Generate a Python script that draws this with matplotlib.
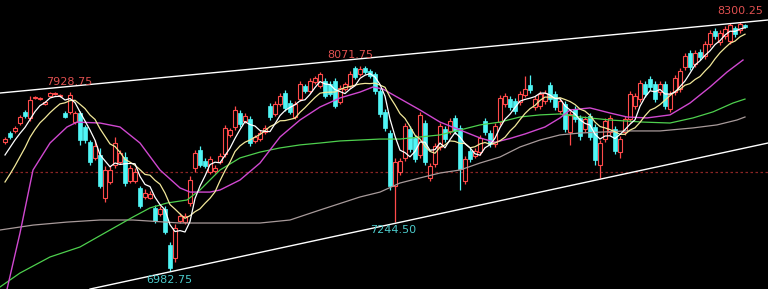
import numpy as np
import pandas as pd
import matplotlib
matplotlib.use("Agg")
import matplotlib.pyplot as plt

# ---------------- data ----------------
opens = [7666, 7714, 7725, 7767, 7825, 7794, 7900, 7894, 7868, 7910,
         7921, 7910, 7820, 7825, 7772, 7820, 7746, 7666, 7582, 7598,
         7370, 7454, 7545, 7560, 7587, 7460, 7460, 7423, 7375, 7370,
         7317, 7285, 7311, 7121, 7052, 7248, 7242, 7343, 7529, 7624,
         7566, 7507, 7513, 7560, 7603, 7704, 7746, 7820, 7778, 7788,
         7672, 7682, 7719, 7857, 7815, 7868, 7926, 7873, 7799, 7894,
         7963, 7937, 7984, 7963, 7990, 7974, 7990, 7878, 7947, 7963,
         8059, 8027, 8059, 8043, 8027, 7937, 7825, 7714, 7433, 7507,
         7582, 7735, 7688, 7598, 7767, 7476, 7550, 7640, 7735, 7725,
         7794, 7741, 7460, 7619, 7592, 7613, 7778, 7714, 7656, 7772,
         7868, 7894, 7884, 7878, 7916, 7969, 7852, 7857, 7884, 7969,
         7921, 7831, 7868, 7719, 7841, 7794, 7735, 7804, 7746, 7545,
         7682, 7719, 7735, 7613, 7719, 7788, 7857, 7894, 7974, 8000,
         7974, 7931, 7974, 7841, 7931, 7947, 8064, 8138, 8080, 8143,
         8122, 8186, 8255, 8196, 8228, 8202, 8271, 8260, 8287]
closes = [7682, 7693, 7741, 7799, 7804, 7889, 7905, 7900, 7878, 7926,
          7926, 7916, 7799, 7916, 7820, 7677, 7677, 7560, 7645, 7433,
          7518, 7518, 7661, 7608, 7449, 7529, 7507, 7327, 7396, 7391,
          7248, 7311, 7189, 6999, 7211, 7274, 7274, 7465, 7608, 7545,
          7539, 7576, 7529, 7592, 7741, 7730, 7836, 7762, 7804, 7661,
          7693, 7714, 7741, 7799, 7868, 7910, 7847, 7825, 7868, 7974,
          7937, 7990, 8006, 8027, 7910, 7921, 7857, 7953, 7974, 8027,
          8011, 8053, 8037, 8016, 7937, 7815, 7741, 7433, 7560, 7566,
          7751, 7629, 7576, 7810, 7560, 7539, 7645, 7751, 7682, 7778,
          7725, 7523, 7576, 7576, 7619, 7688, 7719, 7656, 7751, 7900,
          7910, 7852, 7831, 7921, 7947, 7942, 7894, 7921, 7926, 7894,
          7852, 7884, 7735, 7815, 7788, 7698, 7788, 7693, 7571, 7661,
          7778, 7794, 7619, 7682, 7788, 7921, 7910, 7979, 7921, 7958,
          7894, 7974, 7857, 7921, 8006, 8043, 8122, 8064, 8138, 8117,
          8186, 8244, 8228, 8244, 8265, 8287, 8239, 8292, 8276]
highs = [7693, 7725, 7751, 7810, 7836, 7910, 7910, 7905, 7884, 7931,
         7931, 7921, 7831, 7928.75, 7831, 7831, 7757, 7677, 7677, 7635,
         7539, 7539, 7693, 7624, 7613, 7545, 7529, 7433, 7417, 7407,
         7333, 7327, 7327, 7136, 7232, 7290, 7290, 7486, 7624, 7645,
         7582, 7592, 7545, 7608, 7757, 7741, 7857, 7836, 7820, 7804,
         7704, 7730, 7757, 7873, 7884, 7926, 7942, 7889, 7884, 7990,
         7974, 8006, 8016, 8037, 8006, 7990, 8006, 7969, 7984, 8043,
         8069, 8071.75, 8069, 8053, 8037, 7953, 7841, 7730, 7582, 7582,
         7767, 7751, 7704, 7825, 7783, 7555, 7661, 7767, 7751, 7794,
         7810, 7757, 7592, 7635, 7635, 7704, 7794, 7730, 7767, 7916,
         7926, 7910, 7900, 7937, 8016, 8022, 7910, 7937, 7942, 7984,
         7937, 7900, 7884, 7831, 7857, 7810, 7804, 7820, 7762, 7677,
         7794, 7810, 7751, 7698, 7804, 7937, 7926, 7995, 7990, 8016,
         7990, 7990, 7990, 7937, 8022, 8059, 8138, 8154, 8154, 8159,
         8202, 8260, 8271, 8260, 8281, 8296, 8281, 8300.25, 8292]
lows = [7656, 7682, 7714, 7757, 7794, 7778, 7894, 7889, 7863, 7905,
        7916, 7905, 7794, 7815, 7762, 7651, 7661, 7545, 7571, 7423,
        7348, 7444, 7529, 7550, 7433, 7449, 7449, 7317, 7364, 7364,
        7237, 7274, 7179, 6982.75, 7030, 7237, 7232, 7327, 7507, 7534,
        7529, 7497, 7502, 7550, 7587, 7693, 7730, 7746, 7767, 7645,
        7661, 7672, 7709, 7783, 7804, 7857, 7831, 7815, 7788, 7884,
        7926, 7926, 7974, 7953, 7900, 7910, 7847, 7868, 7937, 7953,
        8000, 8016, 8027, 8006, 7921, 7799, 7725, 7412, 7244.5, 7492,
        7566, 7613, 7560, 7582, 7545, 7460, 7534, 7624, 7666, 7709,
        7709, 7412, 7444, 7560, 7582, 7598, 7704, 7640, 7640, 7757,
        7852, 7836, 7815, 7863, 7905, 7926, 7836, 7841, 7868, 7878,
        7836, 7815, 7719, 7651, 7772, 7677, 7719, 7677, 7545, 7476,
        7666, 7704, 7603, 7582, 7704, 7772, 7841, 7878, 7905, 7942,
        7878, 7916, 7841, 7825, 7916, 7931, 8048, 8048, 8064, 8101,
        8106, 8170, 8212, 8181, 8212, 8186, 8223, 8244, 8271]

# closes before the first visible candle (for the short moving averages)
prior_closes = [7280, 7295, 7317, 7327, 7338, 7492, 7545, 7624, 7645]

# longer moving averages, read at sample candles
ma20_idx = [0, 3, 5.6, 9, 12.4, 14.4, 19, 23, 27, 31, 35, 37, 41, 43, 47, 51, 55,
            59, 63, 67, 71, 73.6, 75.6, 78.4, 83, 87, 91, 95, 98, 101, 104, 108,
            111, 113, 117, 121, 124.4, 128.4, 133, 137, 141, 144.4, 147.6]
ma20_val = [6840, 7184, 7518, 7661, 7746, 7772, 7767, 7746, 7661, 7518, 7423, 7401,
            7401, 7412, 7465, 7555, 7693, 7783, 7852, 7900, 7931, 7958, 7947, 7905,
            7836, 7772, 7730, 7688, 7665, 7685, 7709, 7746, 7794, 7836, 7847, 7820,
            7799, 7794, 7810, 7873, 7958, 8037, 8101]
ma60_idx = [-1, 3, 9, 15, 21, 25.6, 29, 32.4, 36.4, 39, 43, 47, 51, 55, 59, 63, 67,
            71, 75, 79, 83, 87, 91, 95, 99, 103, 107, 111, 115, 121, 127.6, 133,
            137.6, 141.6, 145.6, 148]
ma60_val = [6898, 6972, 7057, 7110, 7200, 7269, 7317, 7343, 7359, 7412, 7518, 7582,
            7613, 7635, 7651, 7661, 7672, 7677, 7682, 7682, 7693, 7704, 7730, 7757,
            7772, 7799, 7810, 7815, 7799, 7783, 7772, 7767, 7794, 7826, 7873, 7894]
ma120_idx = [-1, 5.6, 12.4, 19, 25.6, 35, 51, 57, 63, 71, 75, 79, 83, 87, 91, 95,
             99, 103, 107, 111, 115, 124.4, 131, 137.6, 142.4, 146.4, 148]
ma120_val = [7200, 7226, 7242, 7253, 7253, 7237, 7237, 7253, 7306, 7375, 7401, 7449,
             7476, 7502, 7518, 7555, 7587, 7640, 7677, 7704, 7714, 7725, 7725, 7741,
             7757, 7783, 7799]

# channel lines and reference level
upper_idx = [-1, 152.6]
upper_val = [7926, 8313]
lower_idx = [17, 152.6]
lower_val = [6887, 7661]
ref_level = 7507

# extreme labels: (candle index, text, high/low)
hi_marks = [(13, "7928.75"), (71, "8071.75"), (147, "8300.25")]
lo_marks = [(33, "6982.75"), (78, "7244.50")]

# ---------------- drawing ----------------
RED = "#ff4a4a"
CYAN = "#50f5f5"
O = np.array(opens, float)
C = np.array(closes, float)
H = np.array(highs, float)
L = np.array(lows, float)
x = np.arange(len(O))
up = C >= O

fig = plt.figure(figsize=(7.68, 2.89), dpi=100, facecolor="black")
ax = fig.add_axes([0, 0, 1, 1])
ax.set_facecolor("black")
ax.set_xlim(-1, 152.6)
ax.set_ylim(6887.3, 8419)
ax.axis("off")

ax.axhline(ref_level, color="#8a2424", lw=0.9, ls=(0, (2, 2)), zorder=1)

cols = np.where(up, RED, CYAN)
ax.vlines(x, L, H, colors=cols, lw=0.9, zorder=2)
bottom = np.minimum(O, C)
height = np.maximum(np.abs(C - O), 2.0)
ax.bar(x[up], height[up], bottom=bottom[up], width=0.72, facecolor="black",
       edgecolor=RED, linewidth=0.8, zorder=3)
ax.bar(x[~up], height[~up], bottom=bottom[~up], width=0.72, facecolor=CYAN,
       edgecolor=CYAN, linewidth=0.5, zorder=3)

s = pd.Series(prior_closes + closes, dtype=float)
ma5 = s.rolling(5).mean().iloc[len(prior_closes):].to_numpy()
ma10 = s.rolling(10).mean().iloc[len(prior_closes):].to_numpy()

ax.plot(ma120_idx, ma120_val, color="#a89a9a", lw=0.9, zorder=4)
ax.plot(ma60_idx, ma60_val, color="#4ed04e", lw=0.9, zorder=4)
ax.plot(ma20_idx, ma20_val, color="#d048d0", lw=1.0, zorder=4)
ax.plot(x, ma10, color="#f2e89a", lw=0.9, zorder=5)
ax.plot(x, ma5, color="white", lw=0.9, zorder=5)

ax.plot(upper_idx, upper_val, color="white", lw=1.0, zorder=6)
ax.plot(lower_idx, lower_val, color="white", lw=1.0, zorder=6)

hi_off = {13: (-1, 10), 71: (-10, 11), 147: (0, 11)}
for i, t in hi_marks:
    ax.annotate(t, (i, H[i]), xytext=hi_off[i], textcoords="offset pixels",
                ha="center", va="center", color="#e05050", fontsize=8, zorder=7)
lo_off = {33: (-1, -9), 78: (-2, -8)}
for i, t in lo_marks:
    ax.annotate(t, (i, L[i]), xytext=lo_off[i], textcoords="offset pixels",
                ha="center", va="center", color="#4ccaca", fontsize=8, zorder=7)

fig.savefig("out.png", dpi=100, facecolor="black")
